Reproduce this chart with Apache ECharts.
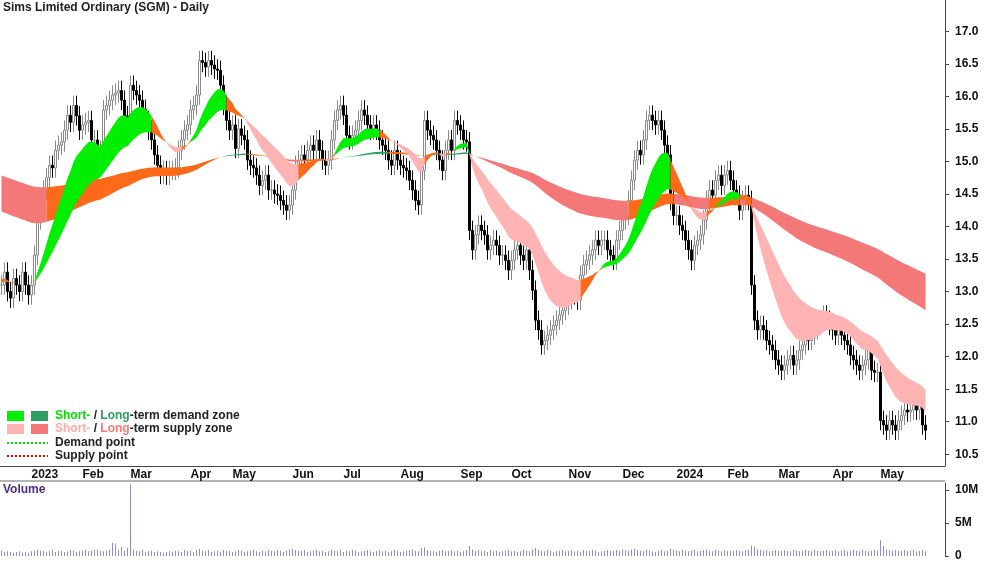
<!DOCTYPE html>
<html style="height: 100%">
<head>
<meta charset="utf-8">
<script src="https://cdn.jsdelivr.net/npm/echarts@6/dist/echarts.min.js"></script>
</head>
<body style="height: 100%; margin: 0; background: #fff">
<div id="container" style="width: 1000px; height: 562px"></div>
<script type="text/javascript">
// daily closes
var closes = [
 13.1,13.3,13.0,12.9,13.2,13.1,13.0,13.3,13.1,12.95,13.1,13.56,
 14.10,14.3,14.56,14.75,14.94,14.9,15.17,15.25,15.3,15.48,15.71,15.6,15.86,15.7,15.48,15.56,15.6,15.63,
 15.33,15.33,14.94,15.17,15.79,15.86,15.94,16.02,16.05,16.09,15.94,15.7,15.48,16.17,16.09,16.02,15.94,15.8,15.63,15.48,
 15.33,15.1,14.94,14.8,14.86,14.79,14.86,14.86,14.9,15.17,15.33,15.48,15.56,15.79,15.86,16.02,16.55,16.52,16.45,16.55,
 16.48,16.42,16.4,16.17,15.86,15.63,15.48,15.56,15.2,15.5,15.4,15.33,15.02,14.94,14.9,14.79,14.63,14.71,14.79,14.56,
 14.56,14.5,14.48,14.4,14.33,14.25,14.33,14.56,14.94,15.02,15.1,15.02,15.17,15.25,15.17,15.33,15.17,15.02,14.94,15.02,
 15.33,15.63,15.79,15.86,15.71,15.4,15.33,15.4,15.48,15.63,15.79,15.71,15.56,15.48,15.56,15.48,15.33,15.25,15.17,15.02,
 14.94,15.17,15.02,14.94,14.9,14.86,14.71,14.56,14.4,14.33,14.86,15.63,15.48,15.4,15.33,15.17,15.02,14.86,15.17,15.33,
 15.17,15.63,15.56,15.48,15.33,15.3,13.94,13.64,13.87,14.02,13.94,13.87,13.64,13.71,13.79,13.71,13.56,13.56,13.48,13.33,
 13.48,13.64,13.71,13.56,13.48,13.64,13.33,13.02,12.56,12.41,12.18,12.25,12.33,12.41,12.48,12.56,12.64,12.71,12.79,12.87,
 13.02,12.95,12.87,13.25,13.41,13.48,13.56,13.64,13.79,13.71,13.79,13.79,13.64,13.56,13.48,13.79,13.94,14.1,14.17,14.4,
 14.71,15.02,15.17,15.1,15.33,15.63,15.71,15.63,15.56,15.63,15.48,15.25,15.1,14.4,14.17,14.17,14.02,13.94,13.79,13.64,
 13.48,13.71,13.79,13.87,14.1,14.4,14.56,14.48,14.71,14.79,14.63,14.79,14.86,14.71,14.56,14.48,14.25,14.4,14.48,14.4,
 13.1,12.56,12.41,12.48,12.41,12.25,12.18,12.1,11.95,11.87,11.79,11.87,11.95,12.02,11.87,11.95,12.1,12.18,12.33,12.25,
 12.33,12.41,12.48,12.56,12.64,12.56,12.48,12.41,12.33,12.41,12.33,12.25,12.18,12.02,11.95,11.87,11.79,11.87,11.95,12.1,
 11.79,11.76,11.76,11.02,10.95,10.87,11.02,10.95,10.87,11.02,11.1,11.18,11.15,11.18,11.25,11.18,11.25,10.95,10.87
];
// daily volume, millions
var volumes = [
 0.8,0.6,0.7,0.6,0.5,0.6,0.7,0.5,0.6,0.5,0.7,0.8,
 0.9,0.8,0.7,0.6,0.7,0.9,0.6,0.7,0.8,0.6,0.7,0.9,0.8,0.6,0.7,0.8,0.9,0.7,
 0.8,0.9,1.0,0.8,0.7,0.8,0.9,2.0,1.9,0.9,1.4,0.8,1.2,10.8,1.0,0.8,0.7,0.9,0.6,0.7,
 0.8,0.6,0.7,0.6,0.5,0.6,0.7,0.6,0.8,0.7,0.6,0.9,0.7,0.8,0.6,0.9,1.1,0.8,0.7,0.9,
 0.6,0.7,0.8,0.6,0.9,0.7,0.8,0.6,0.7,0.9,0.8,0.6,0.7,0.8,0.9,0.7,0.6,0.8,0.7,0.9,
 0.8,0.7,0.9,0.8,0.6,0.8,1.0,1.1,0.9,0.7,0.8,0.9,0.6,0.7,0.8,0.9,0.7,0.8,0.6,0.7,
 0.9,0.8,0.7,0.9,0.6,0.8,0.7,0.9,0.8,0.6,0.7,0.8,0.9,0.7,0.6,0.8,0.9,0.7,0.8,0.6,
 0.7,0.9,0.8,0.6,0.7,0.8,0.9,1.0,0.8,0.7,1.2,1.3,0.9,0.8,0.7,0.6,0.8,0.9,0.7,0.8,
 0.9,0.7,0.8,0.6,0.7,0.9,1.5,1.0,0.8,0.9,0.7,0.8,0.6,0.9,0.7,0.8,0.6,0.7,0.8,0.9,
 0.7,0.8,0.6,0.7,0.9,0.8,0.7,1.0,1.2,0.9,0.8,0.7,0.9,0.8,0.6,0.7,0.8,0.9,0.7,0.8,
 0.9,0.7,0.8,0.6,0.9,0.8,0.7,0.9,0.8,0.6,0.7,0.8,0.9,0.7,0.8,0.9,0.8,1.0,0.9,0.8,
 1.0,1.1,0.9,0.8,0.7,0.9,0.8,0.7,0.6,0.8,0.9,0.7,0.8,1.1,0.9,0.8,0.7,0.9,0.8,0.7,
 0.8,0.9,0.7,0.8,0.9,1.0,0.8,0.7,0.9,0.8,0.7,0.9,0.8,0.7,0.8,0.9,0.8,0.7,0.9,1.0,
 1.6,1.4,1.0,0.9,0.8,0.9,0.7,0.8,0.9,0.8,0.7,0.9,0.8,0.7,0.9,0.8,0.7,0.8,0.9,0.8,
 0.7,0.9,0.8,0.7,0.8,0.9,0.7,0.8,0.9,0.7,0.8,0.9,0.7,0.8,0.9,0.8,0.7,0.9,0.8,0.7,
 0.8,0.9,0.8,2.4,1.5,1.0,0.9,0.8,0.9,0.7,0.8,0.9,0.7,0.8,0.9,0.7,0.8,0.9,0.7
];
// month labels and the bar index where each month starts
var monthLabels = ['2023','Feb','Mar','Apr','May','Jun','Jul','Aug','Sep','Oct','Nov','Dec','2024','Feb','Mar','Apr','May'];
var monthIdx = [10,27,43,63,77,97,114,133,153,170,189,207,225,242,259,277,293];
var priceTicks = [10.5,11,11.5,12,12.5,13,13.5,14,14.5,15,15.5,16,16.5,17];

var N = 315;
var cats = [];
for (var i = 0; i < N; i++) cats.push(i);
var labelAt = {};
monthIdx.forEach(function (m, k) { labelAt[m] = monthLabels[k]; });

// OHLC from consecutive closes
var ohlc = closes.map(function (c, i) {
    var o = i === 0 ? c : closes[i - 1];
    return [o, c, Math.min(o, c) - 0.15, Math.max(o, c) + 0.15];
});

function ema(src, n, seed) {
    var k = 2 / (n + 1), v = seed, out = [];
    src.forEach(function (x) { v = v + k * (x - v); out.push(v); });
    return out;
}
var sFast = ema(closes, 14, 13.2), sSlow = ema(closes, 32, 13.15);
var lFast = ema(closes, 120, 14.25), lSlow = ema(closes, 200, 14.8);

function states(f, s) {
    var prev = 0, out = [];
    f.forEach(function (fv, i) {
        var sv = s[i], c = closes[i], up = fv > sv;
        var hi = Math.max(fv, sv), lo = Math.min(fv, sv), st;
        if (up) st = c < lo ? 2 : (c > hi ? 0 : (prev === 1 ? 2 : prev));
        else st = c > hi ? 2 : (c < lo ? 1 : (prev === 0 ? 2 : prev));
        out.push(st); prev = st;
    });
    return out;
}

var series = [];
function addBand(name, f, s, colors) {
    var st = states(f, s);
    colors.forEach(function (col, k) {
        var base = [], diff = [];
        for (var i = 0; i < f.length; i++) {
            var on = st[i] === k || (i > 0 && st[i - 1] === k);
            base.push(on ? Math.min(f[i], s[i]) : null);
            diff.push(on ? Math.abs(f[i] - s[i]) : null);
        }
        series.push({ type: 'line', stack: name + k, data: base, symbol: 'none', silent: true,
            lineStyle: { width: 0 }, connectNulls: false, animation: false });
        series.push({ type: 'line', stack: name + k, data: diff, symbol: 'none', silent: true,
            lineStyle: { width: 0 }, areaStyle: { color: col, opacity: 1 }, animation: false });
    });
}
addBand('long', lFast, lSlow, ['#2e9e62', '#f47878', '#ff6a1a']);
addBand('short', sFast, sSlow, ['#00ee00', '#ffb3b3', '#ff6a1a']);

series.push({
    type: 'candlestick', data: ohlc, barWidth: 2, animation: false,
    itemStyle: { color: '#ffffff', color0: '#000000', borderColor: '#8a8a8a', borderColor0: '#000000', borderWidth: 1 }
});
series.push({
    type: 'bar', xAxisIndex: 1, yAxisIndex: 1, data: volumes, barWidth: 1, animation: false,
    itemStyle: { color: '#8c8cd6' }
});

var monthInterval = function (i) { return labelAt[i] !== undefined; };
var axisFont = { fontFamily: 'Arial, Liberation Sans', fontSize: 12, fontWeight: 'bold', color: '#111' };

var option = {
    backgroundColor: '#fff',
    animation: false,
    grid: [
        { left: 0, right: 55, top: 0, height: 466 },
        { left: 0, right: 55, top: 483, height: 74 }
    ],
    xAxis: [
        { type: 'category', data: cats, gridIndex: 0,
          axisLine: { lineStyle: { color: '#444' } },
          axisTick: { interval: monthInterval, length: 4, lineStyle: { color: '#444' } },
          axisLabel: Object.assign({ interval: monthInterval, formatter: function (v) { return labelAt[v] || ''; },
              align: 'left', margin: 3 }, axisFont),
          splitLine: { show: false } },
        { type: 'category', data: cats, gridIndex: 1,
          axisLine: { show: false }, axisTick: { show: false }, axisLabel: { show: false } }
    ],
    yAxis: [
        { type: 'value', gridIndex: 0, position: 'right', min: 10.32, max: 17.48,
          axisLine: { show: true, lineStyle: { color: '#444' } },
          axisTick: { show: true, customValues: priceTicks, length: 4, lineStyle: { color: '#444' } },
          axisLabel: Object.assign({ customValues: priceTicks, formatter: function (v) { return v.toFixed(1); }, margin: 10 }, axisFont),
          splitLine: { show: false } },
        { type: 'value', gridIndex: 1, position: 'right', min: 0, max: 11.04,
          axisLine: { show: true, lineStyle: { color: '#444' } },
          axisTick: { show: true, customValues: [0, 5, 10], length: 4, lineStyle: { color: '#444' } },
          axisLabel: Object.assign({ customValues: [0, 5, 10], formatter: function (v) { return v === 0 ? '0' : v + 'M'; }, margin: 10 }, axisFont),
          splitLine: { show: false } }
    ],
    series: series,
    graphic: [
        { type: 'text', left: 3, top: 2, style: { text: 'Sims Limited Ordinary (SGM) - Daily', font: 'bold 12px Arial', fill: '#222' } },
        { type: 'line', shape: { x1: 0, y1: 481, x2: 945, y2: 481 }, style: { stroke: '#666', lineWidth: 1 } },
        { type: 'text', left: 3, top: 484, style: { text: 'Volume', font: 'bold 12px Arial', fill: '#4b2a8a' } },
        { type: 'rect', shape: { x: 7, y: 411, width: 17, height: 10 }, style: { fill: '#00ee00' } },
        { type: 'rect', shape: { x: 31, y: 411, width: 17, height: 10 }, style: { fill: '#2e9e62' } },
        { type: 'rect', shape: { x: 7, y: 424, width: 17, height: 10 }, style: { fill: '#ffb3b3' } },
        { type: 'rect', shape: { x: 31, y: 424, width: 17, height: 10 }, style: { fill: '#f47878' } },
        { type: 'line', shape: { x1: 7, y1: 443, x2: 48, y2: 443 }, style: { stroke: '#00dd00', lineWidth: 2, lineDash: [2, 2] } },
        { type: 'line', shape: { x1: 7, y1: 456, x2: 48, y2: 456 }, style: { stroke: '#ee0000', lineWidth: 2, lineDash: [2, 2] } },
        { type: 'text', left: 55, top: 410, style: { text: '{a|Short-} / {b|Long}-term demand zone',
            rich: { a: { fill: '#00dd00', font: 'bold 12px Arial' }, b: { fill: '#2e9e62', font: 'bold 12px Arial' } }, font: 'bold 12px Arial', fill: '#222' } },
        { type: 'text', left: 55, top: 423, style: { text: '{a|Short-} / {b|Long}-term supply zone',
            rich: { a: { fill: '#ffaaaa', font: 'bold 12px Arial' }, b: { fill: '#f47878', font: 'bold 12px Arial' } }, font: 'bold 12px Arial', fill: '#222' } },
        { type: 'text', left: 55, top: 437, style: { text: 'Demand point', font: 'bold 12px Arial', fill: '#222' } },
        { type: 'text', left: 55, top: 450, style: { text: 'Supply point', font: 'bold 12px Arial', fill: '#222' } }
    ]
};
var myChart = echarts.init(document.getElementById('container'));
myChart.setOption(option);
</script>
</body>
</html>
